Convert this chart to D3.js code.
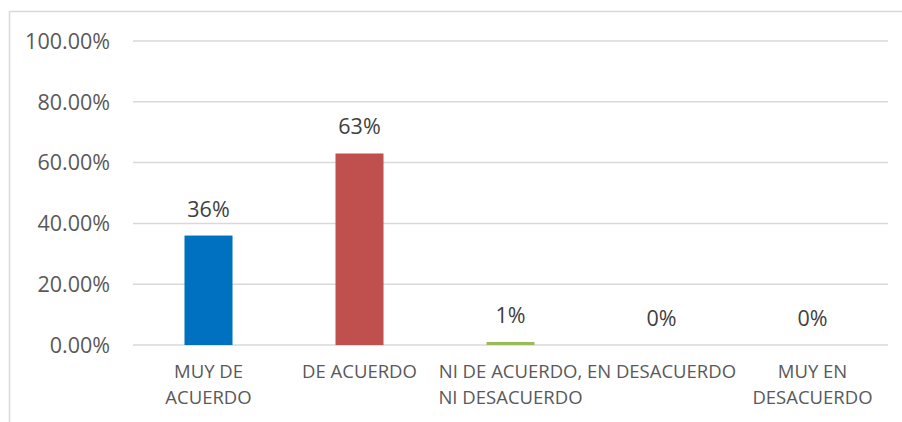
<!DOCTYPE html>
<html>
<head>
<meta charset="utf-8">
<script src="https://cdn.jsdelivr.net/npm/d3@7"></script>
<style>
  body { margin: 0; background: #fff; }
  svg { display: block; font-family: "Open Sans", sans-serif; }
</style>
</head>
<body>
<svg id="chart"></svg>
<script>
// Dados do gráfico
const categorias = ['MUY DE\nACUERDO', 'DE ACUERDO', 'NI DE ACUERDO,\nNI DESACUERDO', 'EN DESACUERDO', 'MUY EN\nDESACUERDO'];
const valores = [0.36, 0.63, 0.01, 0, 0];
const cores = ['#0070C0', '#C0504D', '#9BBB59', '#8064A2', '#4BACC6'];
const ticksY = [0, 0.2, 0.4, 0.6, 0.8, 1.0];

const width = 902, height = 422;
const svg = d3.select('#chart').attr('width', width).attr('height', height);

// Moldura do gráfico (cortada à direita e embaixo)
svg.append('rect')
    .attr('x', 9.5).attr('y', 11.5)
    .attr('width', width + 10).attr('height', height + 10)
    .attr('fill', 'none')
    .attr('stroke', '#d9d9d9')
    .attr('stroke-width', 1.5);

const x = d3.scaleBand()
    .domain(categorias)
    .range([133, 888])
    .padding(0);

const y = d3.scaleLinear()
    .domain([0, 1])
    .range([345, 41]);

// Linhas de grade
svg.append('g')
    .selectAll('line')
    .data(ticksY)
    .enter()
    .append('line')
    .attr('x1', 133).attr('x2', 888)
    .attr('y1', d => y(d)).attr('y2', d => y(d))
    .attr('stroke', '#d9d9d9')
    .attr('stroke-width', 1.5);

// Rótulos do eixo Y
svg.append('g')
    .selectAll('text')
    .data(ticksY)
    .enter()
    .append('text')
    .attr('x', 110)
    .attr('y', d => y(d))
    .attr('dy', '0.36em')
    .attr('text-anchor', 'end')
    .attr('fill', '#595959')
    .attr('font-size', 21.5)
    .text(d => d3.format('.2%')(d));

// Barras
const larguraBarra = x.bandwidth() * 0.318;
svg.append('g')
    .selectAll('rect')
    .data(valores)
    .enter()
    .append('rect')
    .attr('x', (d, i) => x(categorias[i]) + x.bandwidth() / 2 - larguraBarra / 2)
    .attr('y', d => y(d))
    .attr('width', larguraBarra)
    .attr('height', d => y(0) - y(d))
    .attr('fill', (d, i) => cores[i]);

// Rótulos de valor
svg.append('g')
    .selectAll('text')
    .data(valores)
    .enter()
    .append('text')
    .attr('x', (d, i) => x(categorias[i]) + x.bandwidth() / 2)
    .attr('y', d => y(d) - 19)
    .attr('text-anchor', 'middle')
    .attr('fill', '#404040')
    .attr('font-size', 21.5)
    .text(d => d3.format('.0%')(d));

// Rótulos das categorias
const rotulos = svg.append('g')
    .selectAll('text')
    .data(categorias)
    .enter()
    .append('text')
    .attr('x', d => x(d) + x.bandwidth() / 2)
    .attr('y', 378)
    .attr('text-anchor', 'middle')
    .attr('fill', '#595959')
    .attr('font-size', 18.5);

rotulos.selectAll('tspan')
    .data(d => d.split('\n'))
    .enter()
    .append('tspan')
    .attr('x', function() { return this.parentNode.getAttribute('x'); })
    .attr('dy', (d, i) => i === 0 ? 0 : 26)
    .text(d => d);
</script>
</body>
</html>
